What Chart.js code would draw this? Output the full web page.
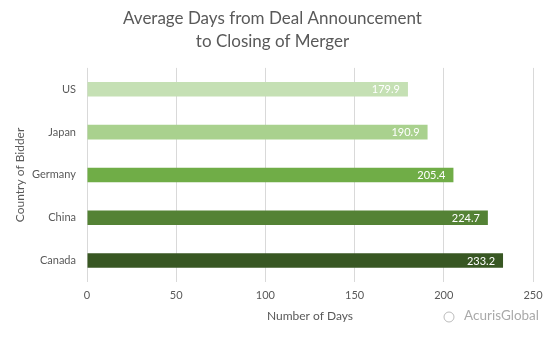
<!DOCTYPE html>
<html>
<head>
<meta charset="utf-8">
<title>Average Days from Deal Announcement to Closing of Merger</title>
<script src="https://cdn.jsdelivr.net/npm/chart.js@4.4.1/dist/chart.umd.min.js"></script>
<style>
  html, body { margin: 0; padding: 0; background: #fff; }
  canvas { display: block; }
</style>
</head>
<body>
<canvas id="bar-chart" width="557" height="337"></canvas>
<script>
// chart data
var countries = ["US", "Japan", "Germany", "China", "Canada"];
var avgDays = [179.9, 190.9, 205.4, 224.7, 233.2];
var barColors = ["#C5E0B4", "#A9D18E", "#70AD47", "#548235", "#385723"];
var xTicks = [0, 50, 100, 150, 200, 250];

var titleLines = ["Average Days from Deal Announcement", "to Closing of Merger"];
var xTitle = "Number of Days";
var yTitle = "Country of Bidder";
var watermark = "AcurisGlobal";

const FONT = "Lato, 'Open Sans', sans-serif";
const GREY = "#595959";

// white value labels at the inside end of every bar
const valueLabels = {
    id: "valueLabels",
    afterDatasetsDraw(chart) {
        const ctx = chart.ctx;
        const meta = chart.getDatasetMeta(0);
        ctx.save();
        ctx.font = "11px " + FONT;
        ctx.fillStyle = "#ffffff";
        ctx.textAlign = "right";
        ctx.textBaseline = "middle";
        meta.data.forEach(function (bar, i) {
            ctx.fillText(avgDays[i].toFixed(1), bar.x - 8, bar.y + 0.5);
        });
        ctx.restore();
    }
};

// faint watermark in the lower right corner
const watermarkText = {
    id: "watermarkText",
    afterDraw(chart) {
        const ctx = chart.ctx;
        const right = chart.chartArea.right + 6;
        ctx.save();
        ctx.font = "13.5px " + FONT;
        ctx.fillStyle = "rgba(140,140,140,0.75)";
        ctx.textAlign = "right";
        ctx.textBaseline = "middle";
        ctx.fillText(watermark, right, 316);
        ctx.strokeStyle = "rgba(160,160,160,0.7)";
        ctx.lineWidth = 1;
        ctx.beginPath();
        ctx.arc(right - 90, 317, 5, 0, Math.PI * 2);
        ctx.stroke();
        ctx.restore();
    }
};

const chartData = {
    labels: countries,
    datasets: [{
        label: "Average days",
        data: avgDays,
        backgroundColor: barColors,
        borderWidth: 0,
        categoryPercentage: 1,
        barPercentage: 0.34
    }]
};

const config = {
    type: "bar",
    data: chartData,
    options: {
        indexAxis: "y",
        responsive: false,
        animation: false,
        layout: { padding: { left: 12, right: 24, top: 0, bottom: 0 } },
        plugins: {
            legend: { display: false },
            tooltip: { enabled: false },
            title: {
                display: true,
                text: titleLines,
                color: GREY,
                font: { family: FONT, size: 17, weight: "normal", lineHeight: 1.32 },
                padding: { top: 7.5, bottom: 15.5 }
            }
        },
        scales: {
            x: {
                min: 0,
                max: 250,
                afterBuildTicks: function (scale) {
                    scale.ticks = xTicks.map(function (v) { return { value: v }; });
                },
                afterFit: function (scale) { scale.height = 55; },
                grid: { color: "#d9d9d9", drawTicks: false },
                border: { display: false },
                ticks: { color: GREY, padding: 7, font: { family: FONT, size: 11 } },
                title: {
                    display: true,
                    text: xTitle,
                    color: GREY,
                    font: { family: FONT, size: 12 },
                    padding: { top: 0, bottom: 13.3 }
                }
            },
            y: {
                afterFit: function (scale) { scale.width = 75; },
                grid: { display: false, drawTicks: false },
                border: { display: false },
                ticks: { color: GREY, padding: 11, font: { family: FONT, size: 11 } },
                title: {
                    display: true,
                    text: yTitle,
                    color: GREY,
                    font: { family: FONT, size: 12 },
                    padding: { top: 1.3, bottom: 0 }
                }
            }
        }
    },
    plugins: [valueLabels, watermarkText]
};

const barChart = new Chart(document.getElementById("bar-chart"), config);
</script>
</body>
</html>
